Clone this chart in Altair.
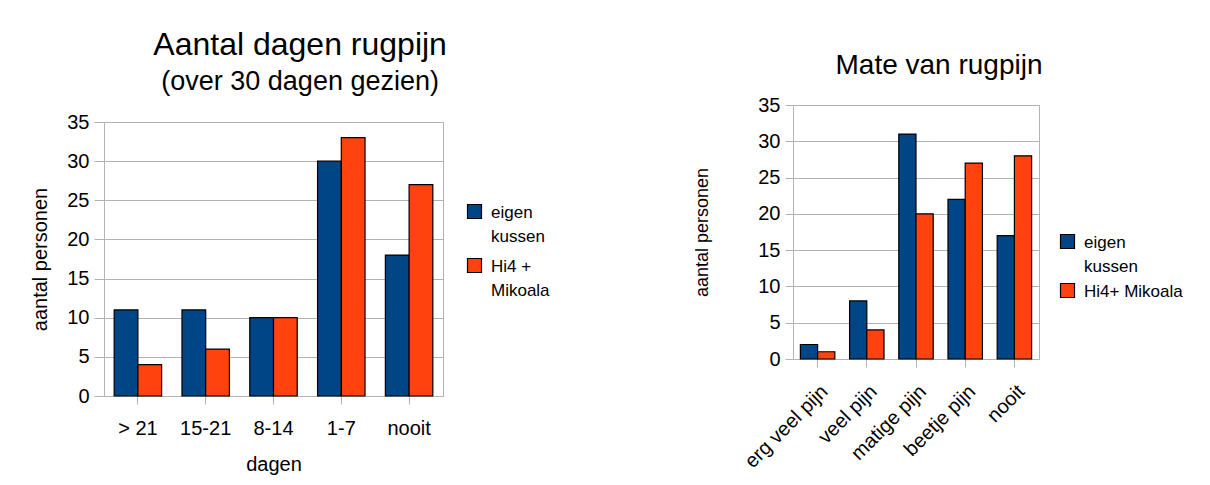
import altair as alt
import pandas as pd

# ---- data ----
days = ["> 21", "15-21", "8-14", "1-7", "nooit"]
days_eigen = [11, 11, 10, 30, 18]
days_hi4 = [4, 6, 10, 33, 27]

pain = ["erg veel pijn", "veel pijn", "matige pijn", "beetje pijn", "nooit"]
pain_eigen = [2, 8, 31, 22, 17]
pain_hi4 = [1, 4, 20, 27, 28]

series_left = ["eigen kussen", "Hi4 + Mikoala"]
series_right = ["eigen kussen", "Hi4+ Mikoala"]
colors = ["#004586", "#ff420e"]
y_ticks = [0, 5, 10, 15, 20, 25, 30, 35]

FONT = "Liberation Sans"
# legend square, drawn slightly above the label baseline
SQUARE = "M-1,-1.86L1,-1.86L1,0.14L-1,0.14Z"

left_df = pd.DataFrame({
    "dagen": days * 2,
    "reeks": [series_left[0]] * len(days) + [series_left[1]] * len(days),
    "aantal": days_eigen + days_hi4,
})
right_df = pd.DataFrame({
    "mate": pain * 2,
    "reeks": [series_right[0]] * len(pain) + [series_right[1]] * len(pain),
    "aantal": pain_eigen + pain_hi4,
})

split_expr = ("datum.label == 'eigen kussen' ? ['eigen', 'kussen'] : "
              "datum.label == 'Hi4 + Mikoala' ? ['Hi4 +', 'Mikoala'] : datum.label")

left = alt.Chart(left_df).mark_bar(stroke="black", strokeWidth=1.2).encode(
    x=alt.X("dagen:N", sort=days,
            scale=alt.Scale(paddingInner=0.3, paddingOuter=0.15),
            axis=alt.Axis(title="dagen", labelAngle=0, labelFontSize=20,
                          titleFontSize=20, titlePadding=16, labelPadding=14,
                          tickSize=8)),
    xOffset=alt.XOffset("reeks:N", sort=series_left),
    y=alt.Y("aantal:Q", scale=alt.Scale(domain=[0, 35]),
            axis=alt.Axis(values=y_ticks, title="aantal personen",
                          labelFontSize=20, titleFontSize=20, tickSize=10,
                          labelPadding=5, titlePadding=16)),
    color=alt.Color("reeks:N", sort=series_left,
                    scale=alt.Scale(domain=series_left, range=colors),
                    legend=alt.Legend(title=None, orient="none", legendX=362,
                                      legendY=104, labelFontSize=17,
                                      symbolType=SQUARE, symbolSize=196,
                                      symbolStrokeColor="black",
                                      symbolStrokeWidth=1.2,
                                      labelExpr=split_expr,
                                      labelBaseline="alphabetic",
                                      rowPadding=11, labelOffset=8)),
).properties(width=339, height=274)

spacer = alt.Chart(pd.DataFrame({"v": [0]})).mark_point(opacity=0).encode(
    x=alt.value(0), y=alt.value(0)
).properties(width=339, height=6, view=alt.ViewBackground(stroke=None))

left_block = alt.vconcat(spacer, left, spacing=0).properties(
    title=alt.Title("Aantal dagen rugpijn", subtitle="(over 30 dagen gezien)",
                    fontSize=32, subtitleFontSize=27, fontWeight="normal",
                    font=FONT, subtitleFont=FONT, color="black",
                    subtitleColor="black", anchor="middle", offset=6,
                    subtitlePadding=7, dx=10)
)

right = alt.Chart(right_df).mark_bar(stroke="black", strokeWidth=1.2).encode(
    x=alt.X("mate:N", sort=pain,
            scale=alt.Scale(paddingInner=0.3, paddingOuter=0.15),
            axis=alt.Axis(title=None, labelAngle=-45, labelFontSize=20,
                          labelPadding=14, tickSize=8)),
    xOffset=alt.XOffset("reeks:N", sort=series_right),
    y=alt.Y("aantal:Q", scale=alt.Scale(domain=[0, 35]),
            axis=alt.Axis(values=y_ticks, title="aantal personen",
                          labelFontSize=20, titleFontSize=18, tickSize=8,
                          labelPadding=5, titlePadding=46)),
    color=alt.Color("reeks:N", sort=series_right,
                    scale=alt.Scale(domain=series_right, range=colors),
                    legend=alt.Legend(title=None, orient="none", legendX=266,
                                      legendY=134, labelFontSize=17,
                                      symbolType=SQUARE, symbolSize=196,
                                      symbolStrokeColor="black",
                                      symbolStrokeWidth=1.2,
                                      labelExpr=split_expr,
                                      labelBaseline="alphabetic",
                                      rowPadding=6, labelOffset=8)),
).properties(width=246, height=254,
             title=alt.Title("Mate van rugpijn", fontSize=28,
                             fontWeight="normal", font=FONT, color="black",
                             anchor="middle", offset=15, dx=23))

chart = alt.hconcat(left_block, right, spacing=143).resolve_scale(
    color="independent", xOffset="independent"
).properties(
    padding={"left": 22, "top": 21, "right": 5, "bottom": 5},
    background="white",
).configure(
    style={"guide-label": {"lineHeight": 24}}
).configure_view(
    stroke="#b3b3b3"
).configure_axis(
    gridColor="#b3b3b3", domainColor="#b3b3b3", tickColor="#b3b3b3",
    labelFont=FONT, titleFont=FONT, labelColor="black", titleColor="black",
    titleFontWeight="normal"
).configure_legend(
    labelFont=FONT, labelColor="black"
)

chart.save("out.html", embed_options={"renderer": "svg", "actions": False})
